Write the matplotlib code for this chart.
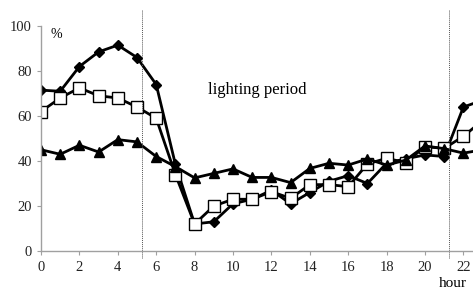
import matplotlib
matplotlib.use("Agg")
import matplotlib.pyplot as plt

plt.rcParams['font.family'] = ['Liberation Serif', 'DejaVu Serif']

hours = list(range(24))
diamond = [71.5, 71, 82, 88.5, 91.5, 86, 74, 38.5, 12, 13, 21, 23, 27, 21, 26, 31, 33.5, 30, 39, 41, 42.7, 42, 64, 67]
square = [62, 68, 72.5, 69, 68, 64, 59, 34, 12, 20, 23, 23, 26.4, 23.4, 29.5, 29.5, 28.6, 38.7, 41.2, 39.3, 46.4, 45.6, 51, 58]
triangle = [45, 43, 47, 44, 49.5, 48.5, 42, 37.5, 32.5, 34.5, 36.5, 32.7, 32.7, 30.4, 36.7, 39, 38.2, 40.9, 38.2, 40.4, 46.7, 45.5, 43.5, 45]
light_on = 5.24
light_off = 21.27
xticks = list(range(0, 23, 2))
yticks = [0, 20, 40, 60, 80, 100]

fig = plt.figure(figsize=(4.73, 2.92), dpi=100)
ax = fig.add_axes([0.0867, 0.1404, 1 - 0.0867, 0.7705])

ax.plot(hours, diamond, color='black', lw=2.0, marker='D', ms=5.5, mfc='black', mec='black')
ax.plot(hours, square, color='black', lw=2.0, marker='s', ms=8, mfc='white', mec='black', mew=1.0)
ax.plot(hours, triangle, color='black', lw=2.0, marker='^', ms=6.5, mfc='black', mec='black')

# lights on / off
for xv in (light_on, light_off):
    ax.plot([xv, xv], [-3, 107], color='#555555', lw=0.7, ls=(0, (1, 1)), clip_on=False)

ax.set_xlim(0, 22.5)
ax.set_ylim(0, 100)
ax.set_xticks(xticks)
ax.set_yticks(yticks)
for s in ('top', 'right'):
    ax.spines[s].set_visible(False)
for s in ('left', 'bottom'):
    ax.spines[s].set_color('#a0a0a0')
    ax.spines[s].set_linewidth(1.0)
ax.tick_params(axis='both', colors='#a0a0a0', length=3, labelcolor='#222222', labelsize=10.5)
ax.tick_params(axis='x', pad=4)

ax.text(0.5, 99, '%', fontsize=10, ha='left', va='top')
ax.text(11.25, 71.5, 'lighting period', fontsize=12, ha='center', va='center')
fig.text(0.927, 0.008, 'hour', fontsize=11, ha='left', va='bottom')

fig.savefig('out.png', dpi=100)
